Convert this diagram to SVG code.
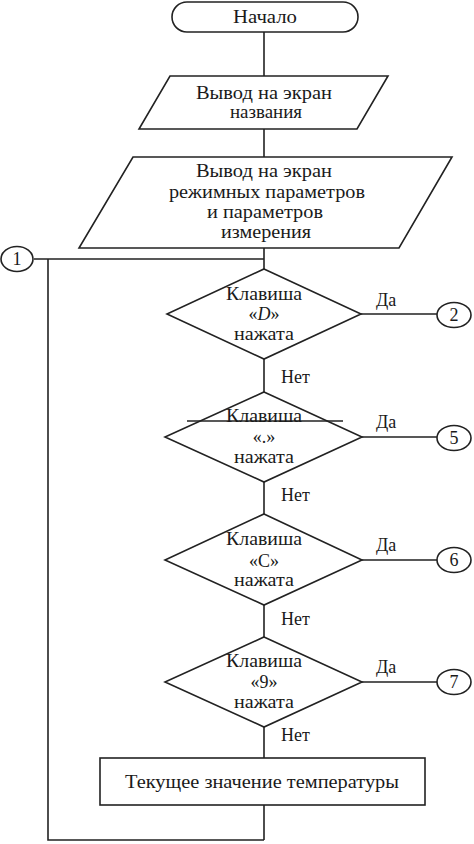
<svg xmlns="http://www.w3.org/2000/svg" width="474" height="844" viewBox="0 0 474 844">
<style>
.s{fill:#fff;stroke:#222;stroke-width:1.6}
.l{fill:none;stroke:#222;stroke-width:1.6}
text{font-family:"Liberation Serif","Times New Roman",serif;font-size:18px;fill:#1a1a1a;text-anchor:middle}
.lb{text-anchor:start}
</style>
<rect width="474" height="844" fill="#fff"/>
<g id="connectors">
<path class="l" d="M264 32V76M264 129V157M264 248V269M34 259H264M48 259V840H264M264 805V840"/>
<path class="l" d="M264 359V392M264 482V514M264 605V637M264 727V758"/>
<path class="l" d="M361 314H437M362 437H437M362 560H437M362 682H437"/>
<text class="lb" x="376" y="306">Да</text>
<text class="lb" x="376" y="428">Да</text>
<text class="lb" x="376" y="551">Да</text>
<text class="lb" x="376" y="673">Да</text>
<text class="lb" x="281" y="383">Нет</text>
<text class="lb" x="281" y="501">Нет</text>
<text class="lb" x="281" y="625">Нет</text>
<text class="lb" x="281" y="741">Нет</text>
</g>
<g id="start">
<rect class="s" x="172" y="2" width="186" height="30" rx="15"/>
<text x="265" y="23" textLength="64" lengthAdjust="spacingAndGlyphs">Начало</text>
</g>
<g id="out1">
<polygon class="s" points="170,76 388,76 357,129 139,129"/>
<text x="264" y="99" textLength="136" lengthAdjust="spacingAndGlyphs">Вывод на экран</text>
<text x="266" y="118" textLength="72" lengthAdjust="spacingAndGlyphs">названия</text>
</g>
<g id="out2">
<polygon class="s" points="133,157 452,157 399,248 79,248"/>
<text x="264" y="177" textLength="136" lengthAdjust="spacingAndGlyphs">Вывод на экран</text>
<text x="267" y="198" textLength="196" lengthAdjust="spacingAndGlyphs">режимных параметров</text>
<text x="265" y="218" textLength="116" lengthAdjust="spacingAndGlyphs">и параметров</text>
<text x="266" y="238" textLength="90" lengthAdjust="spacingAndGlyphs">измерения</text>
</g>
<g id="c1">
<ellipse class="s" cx="17" cy="259" rx="16" ry="12.5"/>
<text x="17" y="265">1</text>
</g>
<g id="d1">
<polygon class="s" points="264,269 361,314 264,359 167,314"/>
<text x="264" y="300" textLength="76" lengthAdjust="spacingAndGlyphs">Клавиша</text>
<text x="264" y="320">«<tspan font-style="italic">D</tspan>»</text>
<text x="264" y="340" textLength="60" lengthAdjust="spacingAndGlyphs">нажата</text>
</g>
<g id="c2">
<ellipse class="s" cx="454" cy="315" rx="17" ry="12.5"/>
<text x="454" y="321">2</text>
</g>
<g id="d2">
<polygon class="s" points="264,392 362,437 264,482 165,437"/>
<path class="l" d="M187 421H343"/>
<text x="264" y="422" textLength="76" lengthAdjust="spacingAndGlyphs">Клавиша</text>
<text x="264" y="443">«.»</text>
<text x="264" y="463" textLength="60" lengthAdjust="spacingAndGlyphs">нажата</text>
</g>
<g id="c5">
<ellipse class="s" cx="454" cy="438" rx="17" ry="12.5"/>
<text x="454" y="444">5</text>
</g>
<g id="d3">
<polygon class="s" points="264,514 362,560 264,605 165,560"/>
<text x="264" y="545" textLength="76" lengthAdjust="spacingAndGlyphs">Клавиша</text>
<text x="264" y="567">«C»</text>
<text x="264" y="586" textLength="60" lengthAdjust="spacingAndGlyphs">нажата</text>
</g>
<g id="c6">
<ellipse class="s" cx="454" cy="560" rx="17" ry="12.5"/>
<text x="454" y="566">6</text>
</g>
<g id="d4">
<polygon class="s" points="264,637 362,682 264,727 165,682"/>
<text x="264" y="667" textLength="76" lengthAdjust="spacingAndGlyphs">Клавиша</text>
<text x="264" y="688">«9»</text>
<text x="264" y="708" textLength="60" lengthAdjust="spacingAndGlyphs">нажата</text>
</g>
<g id="c7">
<ellipse class="s" cx="454" cy="682" rx="17" ry="12.5"/>
<text x="454" y="688">7</text>
</g>
<g id="box">
<rect class="s" x="100" y="758" width="325" height="47"/>
<text x="262" y="788" textLength="274" lengthAdjust="spacingAndGlyphs">Текущее значение температуры</text>
</g>
</svg>
